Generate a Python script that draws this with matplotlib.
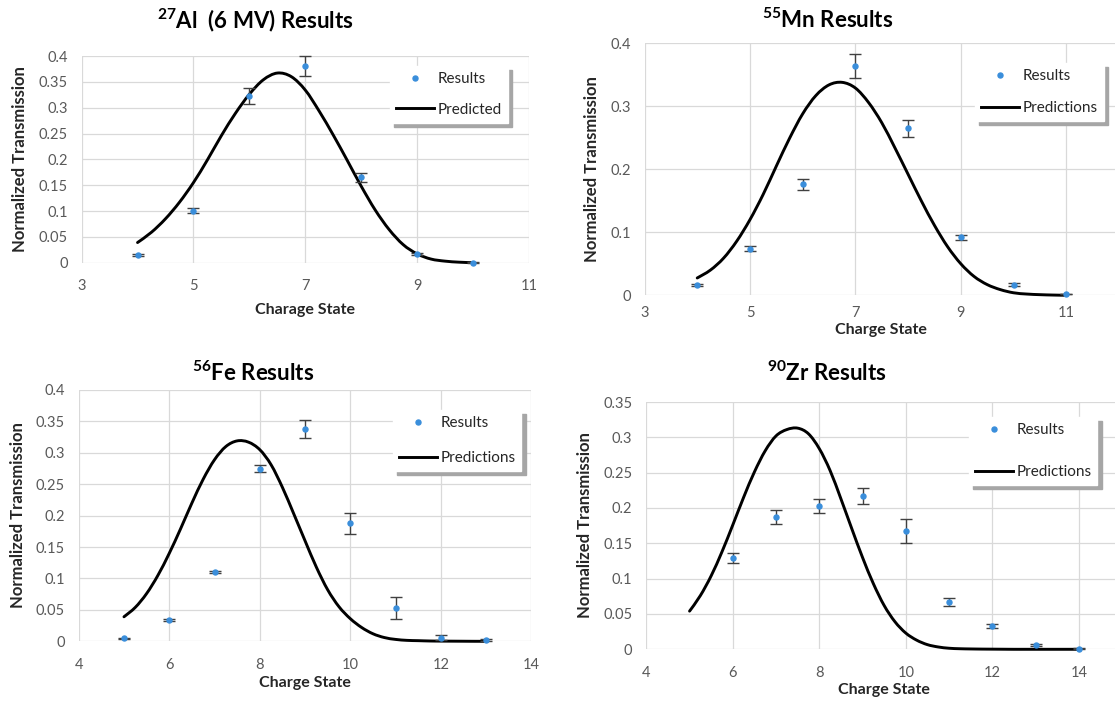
import numpy as np
import matplotlib
matplotlib.use("Agg")
import matplotlib.pyplot as plt
from matplotlib.lines import Line2D
from matplotlib.path import Path
from matplotlib.patches import PathPatch
from matplotlib.ticker import FixedLocator, FuncFormatter

plt.rcParams['font.family'] = ['Lato', 'DejaVu Sans']
plt.rcParams['mathtext.fontset'] = 'custom'
plt.rcParams['mathtext.rm'] = 'Lato'
plt.rcParams['mathtext.bf'] = 'Lato:bold'

# ---------------- data ----------------
# 27Al (6 MV)
al_x = [4, 5, 6, 7, 8, 9, 10]
al_y = [0.014, 0.101, 0.323, 0.381, 0.165, 0.017, 0.000]
al_err = [0.002, 0.005, 0.015, 0.019, 0.008, 0.002, 0.0005]
al_curve_x = [4.0, 4.25, 4.5, 4.75, 5.0, 5.25, 5.5, 5.75, 6.0, 6.25, 6.5, 6.75, 7.0,
              7.25, 7.5, 7.75, 8.0, 8.25, 8.5, 8.75, 9.0, 9.25, 9.5, 9.75, 10.0]
al_curve_y = [0.039, 0.059, 0.085, 0.117, 0.155, 0.199, 0.246, 0.289, 0.326, 0.354, 0.367,
              0.360, 0.334, 0.293, 0.247, 0.198, 0.148, 0.102, 0.064, 0.035, 0.017, 0.007,
              0.003, 0.001, 0.000]
al_xticks = [3, 5, 7, 9, 11]
al_yticks = [0, 0.05, 0.1, 0.15, 0.2, 0.25, 0.3, 0.35, 0.4]

# 55Mn
mn_x = [4, 5, 6, 7, 8, 9, 10, 11]
mn_y = [0.016, 0.074, 0.176, 0.364, 0.265, 0.092, 0.017, 0.002]
mn_err = [0.002, 0.004, 0.009, 0.0185, 0.013, 0.0045, 0.002, 0.0005]
mn_curve_x = [4.0, 4.25, 4.5, 4.75, 5.0, 5.25, 5.5, 5.75, 6.0, 6.25, 6.5, 6.75, 7.0, 7.25,
              7.5, 7.75, 8.0, 8.25, 8.5, 8.75, 9.0, 9.25, 9.5, 9.75, 10.0, 10.25, 10.5,
              10.75, 11.0]
mn_curve_y = [0.0275, 0.040, 0.059, 0.086, 0.120, 0.160, 0.205, 0.249, 0.288, 0.317, 0.334,
              0.338, 0.329, 0.306, 0.274, 0.234, 0.192, 0.150, 0.111, 0.077, 0.050, 0.030,
              0.017, 0.009, 0.004, 0.002, 0.001, 0.0004, 0.0]
mn_xticks = [3, 5, 7, 9, 11]
mn_yticks = [0, 0.1, 0.2, 0.3, 0.4]

# 56Fe
fe_x = [5, 6, 7, 8, 9, 10, 11, 12, 13]
fe_y = [0.005, 0.034, 0.110, 0.275, 0.338, 0.188, 0.053, 0.006, 0.002]
fe_err = [0.001, 0.001, 0.002, 0.006, 0.015, 0.017, 0.018, 0.004, 0.001]
fe_curve_x = [5.0, 5.25, 5.5, 5.75, 6.0, 6.25, 6.5, 6.75, 7.0, 7.25, 7.5, 7.75, 8.0, 8.25,
              8.5, 8.75, 9.0, 9.25, 9.5, 9.75, 10.0, 10.25, 10.5, 10.75, 11.0, 11.25, 11.5,
              11.75, 12.0, 12.25, 12.5, 12.75, 13.0]
fe_curve_y = [0.039, 0.054, 0.076, 0.105, 0.140, 0.179, 0.220, 0.258, 0.289, 0.310, 0.319,
              0.317, 0.305, 0.281, 0.245, 0.203, 0.160, 0.118, 0.082, 0.055, 0.036, 0.022,
              0.012, 0.006, 0.003, 0.0015, 0.001, 0.0005, 0.0003, 0.0002, 0.0001, 0.0, 0.0]
fe_xticks = [4, 6, 8, 10, 12, 14]
fe_yticks = [0, 0.05, 0.1, 0.15, 0.2, 0.25, 0.3, 0.35, 0.4]

# 90Zr
zr_x = [6, 7, 8, 9, 10, 11, 12, 13, 14]
zr_y = [0.129, 0.187, 0.203, 0.217, 0.167, 0.067, 0.033, 0.006, 0.001]
zr_err = [0.007, 0.010, 0.010, 0.011, 0.017, 0.006, 0.003, 0.001, 0.0005]
zr_curve_x = [5.0, 5.25, 5.5, 5.75, 6.0, 6.25, 6.5, 6.75, 7.0, 7.25, 7.5, 7.75, 8.0, 8.25,
              8.5, 8.75, 9.0, 9.25, 9.5, 9.75, 10.0, 10.25, 10.5, 10.75, 11.0, 11.25, 11.5,
              11.75, 12.0, 12.25, 12.5, 12.75, 13.0, 13.25, 13.5, 13.75, 14.0]
zr_curve_y = [0.054, 0.076, 0.104, 0.138, 0.176, 0.215, 0.251, 0.281, 0.302, 0.311, 0.313,
              0.305, 0.284, 0.253, 0.213, 0.171, 0.130, 0.093, 0.062, 0.039, 0.023, 0.013,
              0.0066, 0.0033, 0.0015, 0.0008, 0.0005, 0.0003, 0.0002, 0.0001, 0.0, 0.0,
              0.0, 0.0, 0.0, 0.0, 0.0]
zr_xticks = [4, 6, 8, 10, 12, 14]
zr_yticks = [0, 0.05, 0.1, 0.15, 0.2, 0.25, 0.3, 0.35]

# ---------------- layout ----------------
W, H = 1115, 701
fig = plt.figure(figsize=(W / 100, H / 100), dpi=100)
fig.patch.set_facecolor('white')


def rect(l, r, t, b):
    return [l / W, 1 - b / H, (r - l) / W, (b - t) / H]


def fx(px):
    return px / W


def fy(py):
    return 1 - py / H


def smooth_path(xs, ys):
    """Excel-style smoothed line: cubic Bezier segments through the given points."""
    P = np.column_stack([xs, ys]).astype(float)
    n = len(P)
    verts = [P[0]]
    codes = [Path.MOVETO]
    for i in range(n - 1):
        p0 = P[i - 1] if i > 0 else P[i]
        p1 = P[i]
        p2 = P[i + 1]
        p3 = P[i + 2] if i + 2 < n else P[i + 1]
        c1 = p1 + (p2 - p0) / 6.0
        c2 = p2 - (p3 - p1) / 6.0
        verts += [c1, c2, p2]
        codes += [Path.CURVE4] * 3
    return Path(np.array(verts), codes)


BLUE = '#3A8EDB'
GRID = '#D9D9D9'
TICKC = '#595959'
LABC = '#262626'

panels = [
    dict(x=al_x, y=al_y, err=al_err, cx=al_curve_x, cy=al_curve_y,
         xt=al_xticks, yt=al_yticks, xlim=(3, 11),
         rect=(81.6, 529, 56, 262.7), xpad=12,
         title=r'$^{\mathbf{27}}$Al  (6 MV) Results', title_xy=(255, 20),
         xlabel='Charage State', xlabel_xy=(305, 310), ylabel_xy=(20, 159),
         leg_label='Predicted', leg_anchor=(0.689, 0.952), leg_ls=1.1),
    dict(x=mn_x, y=mn_y, err=mn_err, cx=mn_curve_x, cy=mn_curve_y,
         xt=mn_xticks, yt=mn_yticks, xlim=(3, 12),
         rect=(644.5, 1119, 43.3, 295.3), xpad=8,
         title=r'$^{\mathbf{55}}$Mn Results', title_xy=(828, 20),
         xlabel='Charge State', xlabel_xy=(881, 330), ylabel_xy=(592, 169),
         leg_label='Predictions', leg_anchor=(0.6965, 0.922), leg_ls=1.18),
    dict(x=fe_x, y=fe_y, err=fe_err, cx=fe_curve_x, cy=fe_curve_y,
         xt=fe_xticks, yt=fe_yticks, xlim=(4, 14),
         rect=(78.7, 531.4, 390, 641.3), xpad=12,
         title=r'$^{\mathbf{56}}$Fe Results', title_xy=(253, 373),
         xlabel='Charge State', xlabel_xy=(305, 683), ylabel_xy=(18, 515),
         leg_label='Predictions', leg_anchor=(0.694, 0.920), leg_ls=1.36),
    dict(x=zr_x, y=zr_y, err=zr_err, cx=zr_curve_x, cy=zr_curve_y,
         xt=zr_xticks, yt=zr_yticks, xlim=(4, 15),
         rect=(646.3, 1122, 402, 649.3), xpad=12,
         title=r'$^{\mathbf{90}}$Zr Results', title_xy=(827, 373),
         xlabel='Charge State', xlabel_xy=(884, 690), ylabel_xy=(585, 525),
         leg_label='Predictions', leg_anchor=(0.678, 0.940), leg_ls=1.85),
]

fmt = FuncFormatter(lambda v, p: ('%g' % round(v, 4)))

for p in panels:
    ax = fig.add_axes(rect(*p['rect']))
    ax.set_xlim(*p['xlim'])
    ax.set_ylim(p['yt'][0], p['yt'][-1])
    ax.xaxis.set_major_locator(FixedLocator(p['xt']))
    ax.yaxis.set_major_locator(FixedLocator(p['yt']))
    ax.xaxis.set_major_formatter(fmt)
    ax.yaxis.set_major_formatter(fmt)
    ax.grid(True, color=GRID, lw=0.9)
    ax.set_axisbelow(True)
    for s in ax.spines.values():
        s.set_visible(False)
    ax.tick_params(length=0, labelsize=10.5, labelcolor=TICKC)
    ax.tick_params(axis='x', pad=p['xpad'])
    ax.tick_params(axis='y', pad=10)

    curve = PathPatch(smooth_path(p['cx'], p['cy']), facecolor='none',
                      edgecolor='black', lw=2.1, capstyle='round', joinstyle='round',
                      transform=ax.transData, zorder=3, clip_on=False)
    ax.add_patch(curve)
    ax.errorbar(p['x'], p['y'], yerr=p['err'], fmt='o', ms=3.6, mfc=BLUE, mec=BLUE,
                ecolor='#404040', elinewidth=1, capsize=4, capthick=1, zorder=4,
                clip_on=False)

    handles = [Line2D([], [], ls='none', marker='o', ms=3.6, color=BLUE),
               Line2D([], [], color='black', lw=2.1)]
    leg = ax.legend(handles, ['Results', p['leg_label']], loc='upper left',
                    bbox_to_anchor=p['leg_anchor'], bbox_transform=ax.transAxes,
                    borderaxespad=0, frameon=True, fancybox=False, framealpha=1,
                    facecolor='white', edgecolor='white',
                    shadow={'color': '#A6A6A6', 'alpha': 1, 'ox': 3, 'oy': -3},
                    fontsize=11, handlelength=2.5, handletextpad=0.2,
                    labelspacing=p['leg_ls'], borderpad=0.4)
    for t in leg.get_texts():
        t.set_color(LABC)
    leg.set_zorder(10)

    fig.text(fx(p['title_xy'][0]), fy(p['title_xy'][1]), p['title'], ha='center',
             va='center', fontsize=16, fontweight='bold', color='black')
    fig.text(fx(p['xlabel_xy'][0]), fy(p['xlabel_xy'][1]), p['xlabel'], ha='center',
             va='center', fontsize=11.5, fontweight='bold', color=LABC)
    fig.text(fx(p['ylabel_xy'][0]), fy(p['ylabel_xy'][1]), 'Normalized Transmission',
             ha='center', va='center', rotation=90, fontsize=12, fontweight='bold',
             color=LABC)

fig.savefig('out.png', dpi=100, facecolor='white')
